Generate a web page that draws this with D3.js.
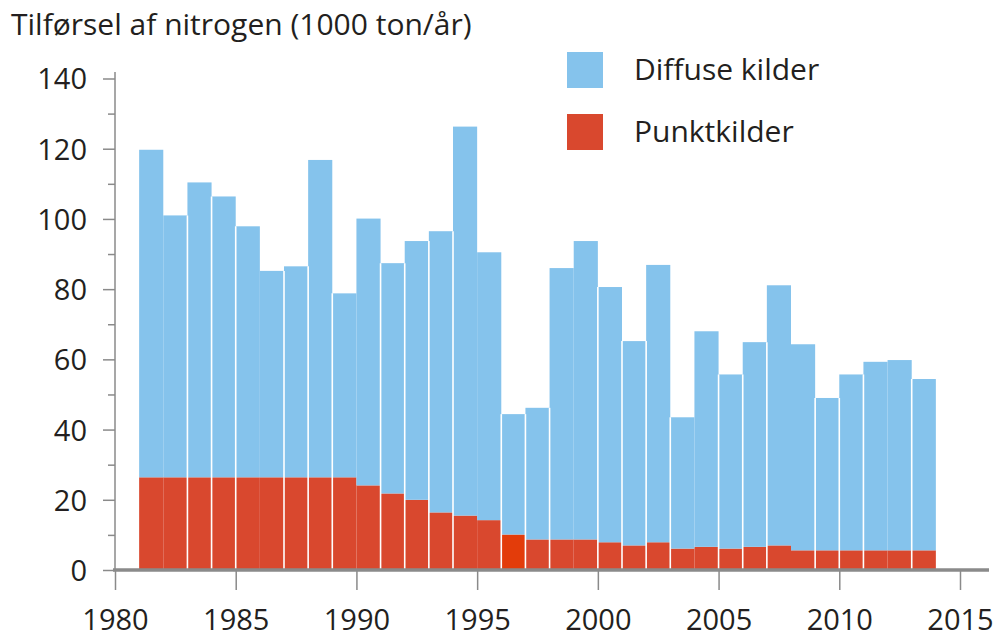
<!DOCTYPE html>
<head>
  <meta charset="utf-8">
  <title>Tilførsel af nitrogen</title>
  <script src="https://d3js.org/d3.v7.min.js"></script>
  <style>
    body { margin: 0; background: #fff; }
    svg text { font-family: "Open Sans", sans-serif; fill: #231f20; }
  </style>
</head>
<body>
<svg width="1001" height="641"></svg>
<script>

// data (1000 ton N / year)
var years = d3.range(1981, 2014);
var punkt = [26.4, 26.4, 26.4, 26.4, 26.4, 26.4, 26.4, 26.4, 26.4, 24.1,
             21.8, 20.0, 16.4, 15.5, 14.2, 10.1, 8.7, 8.7, 8.7, 7.9,
             7.0, 7.9, 6.1, 6.6, 6.1, 6.6, 7.0, 5.6, 5.6, 5.6,
             5.6, 5.6, 5.6];
var total = [119.7, 101.0, 110.4, 106.4, 97.9, 85.2, 86.5, 116.8, 78.8, 100.1,
             87.4, 93.7, 96.5, 126.3, 90.5, 44.4, 46.2, 86.0, 93.7, 80.6,
             65.2, 86.9, 43.5, 68.0, 55.7, 64.9, 81.1, 64.3, 49.0, 55.7,
             59.3, 59.8, 54.4];
var diffuse = total.map(function(t, i) { return +(t - punkt[i]).toFixed(1); });
var xTicks = d3.range(1980, 2016, 5);
var yTicks = d3.range(0, 141, 10);
// bars drawn without a white divider on their left side
var noDivider = [1982, 1986, 1990, 1995, 1999, 2004, 2008, 2012];
var markedYear = 1996;

var blue = "#85c3ec", red = "#d9482e", redMark = "#e33c0a", axisGrey = "#8a8a8a";

var svg = d3.select("svg");

var x = d3.scaleLinear().domain([1980, 2015]).range([115, 960]);
var y = d3.scaleLinear().domain([0, 140]).range([570, 78.5]);

var rows = years.map(function(yr, i) {
  return { year: yr, punkt: punkt[i], diffuse: diffuse[i] };
});
var stack = d3.stack().keys(["punkt", "diffuse"])(rows);

svg.append("g")
  .selectAll("g")
  .data(stack)
  .enter().append("g")
    .attr("fill", function(d) { return d.key == "punkt" ? red : blue; })
  .selectAll("rect")
  .data(function(d) { return d; })
  .enter().append("rect")
    .attr("x", function(d) { return x(d.data.year); })
    .attr("width", function(d) { return x(d.data.year + 1) - x(d.data.year); })
    .attr("y", function(d) { return y(d[1]); })
    .attr("height", function(d) { return y(d[0]) - y(d[1]); })
    .attr("fill", function(d) {
      if (d.data.year == markedYear && d[0] == 0) return redMark;
      return null;
    });

// white separators between bars
svg.append("g")
  .selectAll("line")
  .data(rows.filter(function(d, i) { return i > 0 && noDivider.indexOf(d.year) < 0; }))
  .enter().append("line")
    .attr("x1", function(d) { return x(d.year); })
    .attr("x2", function(d) { return x(d.year); })
    .attr("y1", function(d) {
      var j = years.indexOf(d.year);
      return y(Math.min(total[j], total[j - 1]));
    })
    .attr("y2", y(0))
    .attr("stroke", "#fff")
    .attr("stroke-width", 1.6);

// y axis
var yAxis = svg.append("g")
    .attr("transform", "translate(" + x(1980) + ",0)")
    .call(d3.axisLeft(y).tickValues(yTicks).tickSize(0).tickFormat(""));
yAxis.select(".domain").remove();
yAxis.selectAll(".tick line")
    .attr("x2", function(d) { return d % 20 == 0 ? -12 : -7; })
    .attr("stroke", axisGrey).attr("stroke-width", 1.5);
yAxis.selectAll(".tick").filter(function(d) { return d % 20 == 0; })
  .append("text")
    .attr("x", -28).attr("dy", "0.36em")
    .attr("text-anchor", "end")
    .style("font-size", "29px")
    .text(function(d) { return d; });
yAxis.append("line")
    .attr("x1", 0).attr("x2", 0)
    .attr("y1", 72).attr("y2", y(0))
    .attr("stroke", axisGrey).attr("stroke-width", 1.5);

// x axis
var xAxis = svg.append("g")
    .attr("transform", "translate(0," + y(0) + ")")
    .call(d3.axisBottom(x).tickValues(xTicks).tickSize(20).tickPadding(0).tickFormat(d3.format("d")));
xAxis.select(".domain").remove();
xAxis.selectAll(".tick line").attr("stroke", axisGrey).attr("stroke-width", 1.5);
xAxis.selectAll(".tick text")
    .attr("y", 60).attr("dy", 0)
    .style("font-size", "29px");
xAxis.append("line")
    .attr("x1", x(1980) - 2).attr("x2", 989)
    .attr("stroke", axisGrey).attr("stroke-width", 3.5);

// title
svg.append("text")
    .attr("x", 11).attr("y", 35)
    .style("font-size", "30px")
    .text("Tilførsel af nitrogen (1000 ton/år)");

// legend
var legend = svg.append("g")
  .selectAll("g")
  .data([["Diffuse kilder", blue], ["Punktkilder", red]])
  .enter().append("g")
    .attr("transform", function(d, i) { return "translate(567," + (52 + i * 62) + ")"; });
legend.append("rect")
    .attr("width", 36).attr("height", 36)
    .attr("fill", function(d) { return d[1]; });
legend.append("text")
    .attr("x", 67).attr("y", 28)
    .style("font-size", "30px")
    .text(function(d) { return d[0]; });

</script>
</body>
</html>
